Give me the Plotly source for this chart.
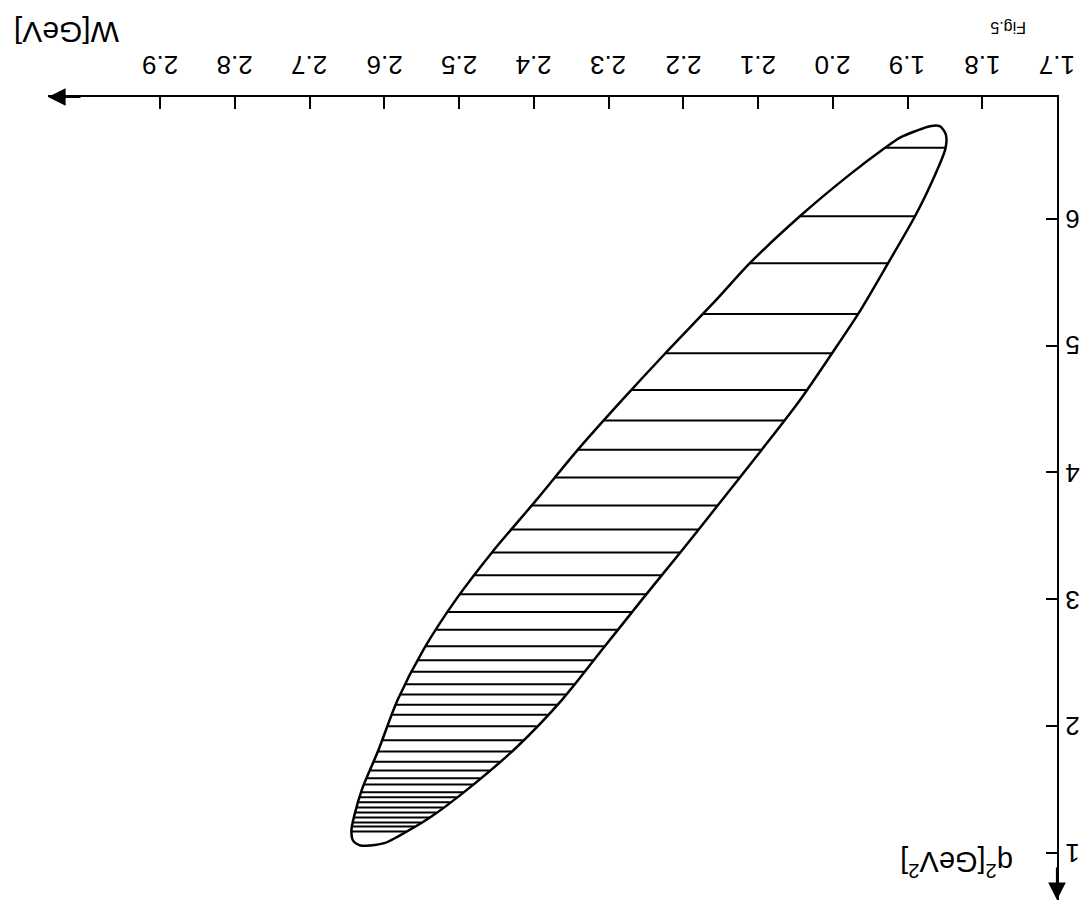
import numpy as np
import plotly.graph_objects as go

# ---- data (W in GeV, q^2 in GeV^2) ----
w_ticks = [1.7, 1.8, 1.9, 2.0, 2.1, 2.2, 2.3, 2.4, 2.5, 2.6, 2.7, 2.8, 2.9]
w_tick_text = ["1.7", "1.8", "1.9", "2.0", "2.1", "2.2", "2.3", "2.4", "2.5", "2.6", "2.7", "2.8", "2.9"]
q2_ticks = [-0.6, -0.5, -0.4, -0.3, -0.2, -0.1]
q2_tick_text = ["-0.6", "-0.5", "-0.4", "-0.3", "-0.2", "-0.1"]

# outline of the kinematic region (closed curve)
outline_w = [1.849, 1.849, 1.869, 1.890, 1.926, 1.966, 2.001, 2.044, 2.095, 2.154,
             2.204, 2.255, 2.309, 2.362, 2.422, 2.485, 2.539, 2.582, 2.599, 2.619,
             2.632, 2.642, 2.644, 2.640, 2.630, 2.608, 2.582, 2.548, 2.504, 2.456,
             2.397, 2.341, 2.282, 2.224, 2.156, 2.111, 2.044, 1.977, 1.930, 1.910,
             1.890, 1.870, 1.857, 1.849]
outline_q2 = [-0.667, -0.656, -0.627, -0.602, -0.565, -0.525, -0.494, -0.457, -0.418, -0.374,
              -0.337, -0.300, -0.260, -0.221, -0.184, -0.152, -0.128, -0.113, -0.108, -0.106,
              -0.106, -0.110, -0.118, -0.130, -0.150, -0.181, -0.221, -0.260, -0.300, -0.337,
              -0.378, -0.418, -0.457, -0.494, -0.536, -0.565, -0.602, -0.635, -0.656, -0.664,
              -0.669, -0.673, -0.673, -0.667]

# q^2 values of the hatch lines
hatch_q2 = [-0.656, -0.602, -0.565, -0.525, -0.494, -0.465, -0.441, -0.418, -0.396, -0.374,
            -0.355, -0.337, -0.319, -0.304, -0.290, -0.276, -0.263, -0.252, -0.243, -0.233,
            -0.225, -0.217, -0.209, -0.200, -0.189, -0.180, -0.172, -0.165, -0.159, -0.154,
            -0.148, -0.144, -0.140, -0.136, -0.132, -0.128, -0.124, -0.121, -0.117]

# ---- hatch extents from the outline ----
ow = np.array(outline_w)
oq = np.array(outline_q2)
hx, hy = [], []
for q in hatch_q2:
    xs = []
    for i in range(len(ow) - 1):
        q1, q2 = oq[i], oq[i + 1]
        if (q1 - q) * (q2 - q) <= 0 and q1 != q2:
            t = (q - q1) / (q2 - q1)
            xs.append(ow[i] + t * (ow[i + 1] - ow[i]))
    if len(xs) >= 2:
        hx += [min(xs), max(xs), None]
        hy += [q, q, None]

fig = go.Figure()
fig.add_trace(go.Scatter(x=hx, y=hy, mode="lines",
                         line=dict(color="black", width=2), hoverinfo="skip"))
fig.add_trace(go.Scatter(x=outline_w, y=outline_q2, mode="lines",
                         line=dict(color="black", width=2.5, shape="spline", smoothing=0.8),
                         hoverinfo="skip"))

font = "Liberation Sans, Arial, sans-serif"
ann = []
for v, t in zip(w_ticks, w_tick_text):
    ann.append(dict(x=v, xref="x", y=1, yref="paper", yshift=32, text=t, showarrow=False,
                    textangle=180, xanchor="center", yanchor="middle",
                    font=dict(family=font, size=26, color="black")))
for v, t in zip(q2_ticks, q2_tick_text):
    ann.append(dict(x=1, xref="paper", y=v, yref="y", xshift=6, text=t, showarrow=False,
                    textangle=180, xanchor="left", yanchor="middle",
                    font=dict(family=font, size=26, color="black")))
ann.append(dict(x=0.0178, y=1.0797, xref="paper", yref="paper", text="W[GeV]", showarrow=False,
                textangle=180, xanchor="center", yanchor="middle",
                font=dict(family=font, size=30, color="black")))
ann.append(dict(x=0.9514, y=1.0859, xref="paper", yref="paper", text="Fig.5", showarrow=False,
                textangle=180, xanchor="center", yanchor="middle",
                font=dict(family=font, size=16, color="black")))
ann.append(dict(x=0.8999, y=0.0448, xref="paper", yref="paper",
                text="q<sup>2</sup>[GeV<sup>2</sup>]", showarrow=False,
                textangle=180, xanchor="center", yanchor="middle",
                font=dict(family=font, size=29, color="black")))
# axis arrowheads
ann.append(dict(x=0, y=1, xref="paper", yref="paper", ax=34, ay=0, text="", showarrow=True,
                arrowhead=2, arrowsize=1.6, arrowwidth=2.2, arrowcolor="black", standoff=0))
ann.append(dict(x=1, y=0, xref="paper", yref="paper", ax=0, ay=-34, text="", showarrow=True,
                arrowhead=2, arrowsize=1.6, arrowwidth=2.2, arrowcolor="black", standoff=0))

fig.update_layout(
    width=1080, height=906,
    margin=dict(l=48, r=23, t=97, b=6),
    paper_bgcolor="white", plot_bgcolor="white",
    showlegend=False,
    annotations=ann,
    xaxis=dict(range=[3.05, 1.7], side="top", showline=True, linecolor="black", linewidth=2,
               ticks="inside", ticklen=12, tickwidth=2, tickcolor="black",
               tickvals=w_ticks, showticklabels=False, showgrid=False, zeroline=False),
    yaxis=dict(range=[-0.063, -0.696], side="right", showline=True, linecolor="black", linewidth=2,
               ticks="inside", ticklen=11, tickwidth=2, tickcolor="black",
               tickvals=q2_ticks, showticklabels=False, showgrid=False, zeroline=False),
)

fig.write_html("out.html", config={"displayModeBar": False},
               post_script="document.body.style.margin='0';document.body.style.overflow='hidden';")
